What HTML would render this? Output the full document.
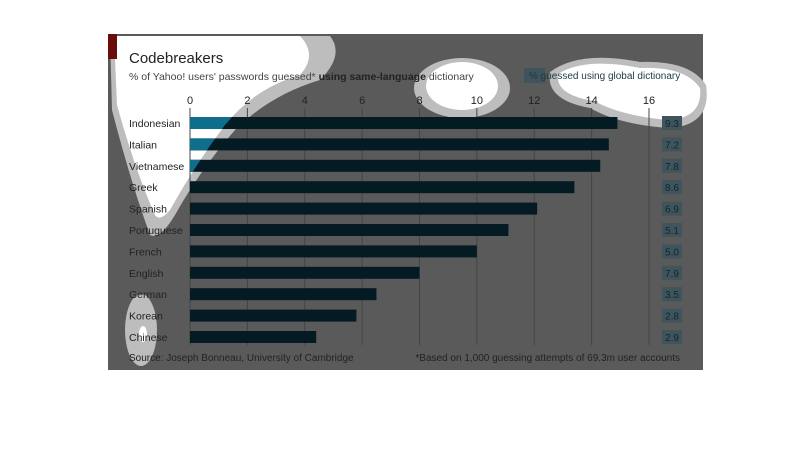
<!DOCTYPE html>
<html><head><meta charset="utf-8"><style>
html,body{margin:0;padding:0;background:#fff;width:810px;height:464px;overflow:hidden}
svg{display:block;font-family:"Liberation Sans",sans-serif}
</style></head><body>
<svg id="c" width="810" height="464">
<defs>
<clipPath id="wclip">
<path d="M114,36 L300,36 Q318,55 300,75 Q255,88 225,125 Q195,165 170,210 Q160,222 155,215 Q135,170 117,105 Z"/>
<ellipse cx="462" cy="86" rx="36" ry="24"/>
<path d="M558,74 Q585,57 640,68 Q685,66 700,88 Q703,118 668,120 Q622,116 594,101 Q555,95 558,74 Z"/>
</clipPath>
</defs>
<rect x="108" y="34" width="595" height="336" fill="#5a5a5a"/>
<g id="blobs">
<path d="M110,36 L330,36 Q345,55 320,80 Q270,95 235,130 Q200,170 175,215 Q160,240 150,235 Q130,180 112,110 Z" fill="#bdbdbd"/>
<path d="M114,36 L300,36 Q318,55 300,75 Q255,88 225,125 Q195,165 170,210 Q160,222 155,215 Q135,170 117,105 Z" fill="#fff"/>
<ellipse cx="462" cy="88" rx="48" ry="30" fill="#bdbdbd"/>
<ellipse cx="462" cy="86" rx="36" ry="24" fill="#fff"/>
<path d="M550,72 Q580,50 640,62 Q690,60 706,85 Q712,125 670,128 Q620,125 590,108 Q545,100 550,72 Z" fill="#bdbdbd"/>
<path d="M558,74 Q585,57 640,68 Q685,66 700,88 Q703,118 668,120 Q622,116 594,101 Q555,95 558,74 Z" fill="#fff"/>
<ellipse cx="141" cy="330" rx="16" ry="36" fill="#bdbdbd"/>
<ellipse cx="143" cy="334" rx="4" ry="8" fill="#fff"/>
</g>
<rect x="108" y="34" width="9" height="25" fill="#6a0c0c"/>
<text x="129" y="63" font-size="15" fill="#222">Codebreakers</text>
<text x="129" y="80" font-size="10.5" fill="#444">% of Yahoo! users' passwords guessed* <tspan fill="#222" font-weight="bold">using same-language</tspan> dictionary</text>
<rect x="524" y="68" width="21" height="15" fill="#3f545c"/>
<text x="529" y="79" font-size="10" fill="#1c3a46">% guessed using global dictionary</text>
<g id="grid"></g><g id="bars"></g><g id="hbars" clip-path="url(#wclip)"></g><g id="labels"></g>
<text x="129" y="361" font-size="10" fill="#222">Source: Joseph Bonneau, University of Cambridge</text>
<text x="680" y="361" font-size="10" fill="#222" text-anchor="end">*Based on 1,000 guessing attempts of 69.3m user accounts</text>
</svg>
<script>
const categories=["Indonesian","Italian","Vietnamese","Greek","Spanish","Portuguese","French","English","German","Korean","Chinese"];
const sameLang=[14.9,14.6,14.3,13.4,12.1,11.1,10.0,8.0,6.5,5.8,4.4];
const globalDict=["9.3","7.2","7.8","8.6","6.9","5.1","5.0","7.9","3.5","2.8","2.9"];
const ticks=[0,2,4,6,8,10,12,14,16];
const NS="http://www.w3.org/2000/svg";
const x=v=>190+v*(459/16);
const y=i=>123+i*21.4;
function mk(t,a,p){const e=document.createElementNS(NS,t);for(const k in a)e.setAttribute(k,a[k]);p.appendChild(e);return e;}
const grid=document.getElementById('grid'),bars=document.getElementById('bars'),hbars=document.getElementById('hbars'),labels=document.getElementById('labels');
ticks.forEach(t=>{
 const l=mk('line',{x1:x(t),x2:x(t),y1:108,y2:345,stroke:'#444','stroke-width':1},grid);
 
 
 const tx=mk('text',{x:x(t),y:104,'font-size':11,fill:'#222','text-anchor':'middle'},grid);
 tx.textContent=t;
 
 
});
categories.forEach((c,i)=>{
 const b=mk('rect',{x:x(0),y:y(i)-6,width:x(sameLang[i])-x(0),height:12,fill:'#041b23'},bars);
 
 
 const h=mk('rect',{x:x(0),y:y(i)-6,width:x(sameLang[i])-x(0),height:12,fill:'#0e6e8c'},hbars);
 
 
 const t=mk('text',{x:129,y:y(i)+4,'font-size':10.5,fill:'#222'},labels);
 t.textContent=c;
 
 
 const r=mk('rect',{x:662,y:y(i)-7,width:20,height:14,fill:'#3f545c'},labels);
 
 
 const v=mk('text',{x:672,y:y(i)+4,'font-size':10,fill:'#12252c','text-anchor':'middle'},labels);
 v.textContent=globalDict[i];
 
 
});
</script>
</body></html>
